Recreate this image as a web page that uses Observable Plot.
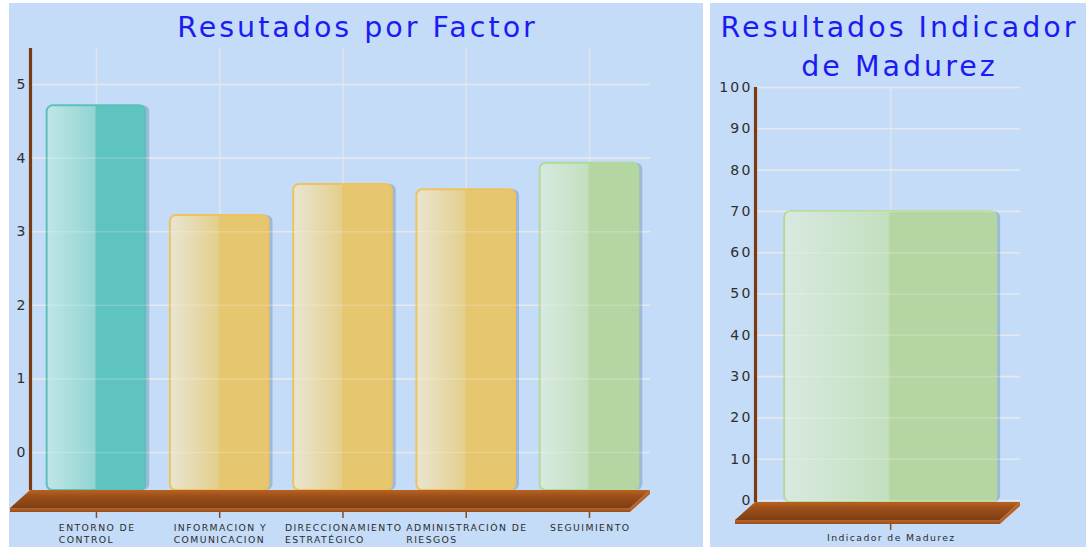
<!DOCTYPE html>
<html>
<head>
<meta charset="utf-8">
<script src="https://cdn.jsdelivr.net/npm/d3@7"></script>
<script src="https://cdn.jsdelivr.net/npm/@observablehq/plot@0.6"></script>
<style>
  html, body { margin: 0; padding: 0; background: #ffffff; width: 1086px; height: 551px; overflow: hidden; }
  .panel { position: absolute; background: #c4dcf7; overflow: hidden; }
  .panel svg { position: absolute; left: 0; top: 0; }
  .title { position: absolute; left: 0; right: 0; top: 5px; text-align: center; color: #1b1bf2;
           font-family: "DejaVu Sans", Verdana, sans-serif; font-size: 28.5px; letter-spacing: 3px;
           padding-left: 3px; line-height: 39px; z-index: 2; }
</style>
</head>
<body>
<div id="left" class="panel" style="left:9px;top:3px;width:694px;height:544px;">
  <div class="title">Resutados por Factor</div>
</div>
<div id="right" class="panel" style="left:710px;top:3px;width:376px;height:544px;">
  <div class="title">Resultados Indicador<br>de Madurez</div>
</div>
<script>
// ---------------- DATA ----------------
const factorNames = [
  "ENTORNO DE\nCONTROL",
  "INFORMACION Y\nCOMUNICACION",
  "DIRECCIONAMIENTO\nESTRATÉGICO",
  "ADMINISTRACIÓN DE\nRIESGOS",
  "SEGUIMIENTO"
];
const factorScores = [4.71, 3.22, 3.64, 3.57, 3.93];
const factorTicks = [0, 1, 2, 3, 4, 5];

const indicatorNames = ["Indicador de Madurez"];
const indicatorScores = [70];
const indicatorTicks = [0, 10, 20, 30, 40, 50, 60, 70, 80, 90, 100];

// ---------------- STYLES ----------------
const factorTones = ["teal", "yellow", "yellow", "yellow", "green"];
const indicatorTones = ["green"];
const tonePalette = {
  teal:   {light: "#bfe6e8", mid: "#92d4d2", solid: "#5fc3bf", stroke: "#5cc1bc"},
  yellow: {light: "#e9e5d0", mid: "#e3cf8d", solid: "#e6c66f", stroke: "#ecc35f"},
  green:  {light: "#d8e9e1", mid: "#c2dfbe", solid: "#b5d6a3", stroke: "#b2d99c"}
};
const FONT = "'DejaVu Sans', Verdana, sans-serif";
const AXIS_LS = 2.2;     // letter spacing of tick values
const LABEL_LS = 1.4;    // letter spacing of category labels
const LABEL_SIZE = 9.3;
const gridColor = "#dfe4ea";

function measure(text, size) {
  const c = measure.c || (measure.c = document.createElement("canvas").getContext("2d"));
  c.font = `${size}px ${FONT}`;
  return c.measureText(text).width + Math.max(0, text.length - 1) * LABEL_LS;
}

function buildChart(cfg) {
  const {names, values, tones, ticks, width, height, mt, mr, mb, ml, xDom, yDom, halfBar, key, labelDy} = cfg;
  const pxX = (xDom[1] - xDom[0]) / (width - ml - mr);
  const pxY = (yDom[1] - yDom[0]) / (height - mt - mb);
  const data = names.map((n, i) => ({i, name: n, value: values[i], tone: tones[i]}));
  const yMin = yDom[0];

  // floor slab (derived from scale geometry)
  const shear = 20 * pxX;
  const fTop = yMin, fMid = yMin - 18 * pxY, fBot = yMin - 22 * pxY;
  const floorTop = [
    {y: fTop, x1: xDom[0], x2: xDom[1]},
    {y: fMid, x1: xDom[0] - shear, x2: xDom[1] - shear}
  ];
  const floorFront = [
    {y: fMid, x1: xDom[0] - shear, x2: xDom[1] - shear},
    {y: fBot, x1: xDom[0] - shear, x2: xDom[1] - shear}
  ];
  const floorSide = [
    {x: xDom[1] - shear, y1: fBot, y2: fMid},
    {x: xDom[1], y1: fTop - 4 * pxY, y2: fTop}
  ];

  const barMarks = Object.keys(tonePalette).map(t =>
    Plot.rectY(data, {
      filter: d => d.tone === t,
      x1: d => d.i - halfBar, x2: d => d.i + halfBar,
      y1: yMin, y2: "value",
      fill: `url(#${key}-${t})`, stroke: tonePalette[t].stroke, strokeWidth: 2,
      rx: 6
    })
  );

  const labelMarks = data.map(d => {
    const lines = d.name.split("\n");
    const w = Math.max(...lines.map(l => measure(l, LABEL_SIZE)));
    return Plot.text([d], {
      x: "i", text: "name", frameAnchor: "bottom", dy: labelDy,
      textAnchor: "start", dx: -w / 2, lineAnchor: "top", lineHeight: 1.3,
      fontSize: LABEL_SIZE, fill: "#2d2d2d"
    });
  });

  const svg = Plot.plot({
    width, height,
    marginTop: mt, marginRight: mr, marginBottom: mb, marginLeft: ml,
    style: {background: "transparent", fontFamily: FONT, fontSize: "14px", color: "#2f2f2f", overflow: "visible"},
    x: {domain: xDom, axis: null},
    y: {domain: yDom, ticks: ticks, tickSize: 0, tickPadding: 3, label: null, tickFormat: d => String(d)},
    marks: [
      Plot.ruleY(ticks, {stroke: gridColor, strokeWidth: 1.6}),
      Plot.ruleX(data, {x: "i", stroke: gridColor, strokeWidth: 1.6}),
      Plot.rectY(data, {
        x1: d => d.i - halfBar, x2: d => d.i + halfBar, y1: yMin, y2: "value",
        dx: 4, fill: "#6f8db5", fillOpacity: 0.45, rx: 6, ariaLabel: "bar-shadow"
      }),
      ...barMarks,
      Plot.ruleY(ticks, {stroke: "#ffffff", strokeOpacity: 0.18, strokeWidth: 1.6}),
      Plot.areaX(floorTop, {y: "y", x1: "x1", x2: "x2", fill: `url(#${key}-floor)`}),
      Plot.areaX(floorFront, {y: "y", x1: "x1", x2: "x2", fill: `url(#${key}-front)`}),
      Plot.areaY(floorSide, {x: "x", y1: "y1", y2: "y2", fill: "#b8622a"}),
      Plot.ruleX([xDom[0]], {y1: yMin, y2: yDom[1], stroke: "#7b3a12", strokeWidth: 3.2}),
      Plot.ruleX(data, {x: "i", y1: fBot, y2: fBot - 6 * pxY, stroke: "#8a4a22", strokeWidth: 1.5}),
      ...labelMarks
    ]
  });

  // gradients and blur filter
  const ns = "http://www.w3.org/2000/svg";
  const defs = document.createElementNS(ns, "defs");
  let html = "";
  for (const [t, p] of Object.entries(tonePalette)) {
    html += `<linearGradient id="${key}-${t}" x1="0" x2="1" y1="0" y2="0">
      <stop offset="0" stop-color="${p.light}"/><stop offset="0.49" stop-color="${p.mid}"/>
      <stop offset="0.5" stop-color="${p.solid}"/><stop offset="1" stop-color="${p.solid}"/></linearGradient>`;
  }
  html += `<linearGradient id="${key}-floor" x1="0" x2="0" y1="0" y2="1">
      <stop offset="0" stop-color="#b8621f"/><stop offset="0.35" stop-color="#9b4f1b"/>
      <stop offset="1" stop-color="#7f3f12"/></linearGradient>
    <linearGradient id="${key}-front" x1="0" x2="0" y1="0" y2="1">
      <stop offset="0" stop-color="#b9652c"/><stop offset="1" stop-color="#94501f"/></linearGradient>
    <filter id="${key}-blur" x="-20%" y="-10%" width="140%" height="120%"><feGaussianBlur stdDeviation="2.5"/></filter>`;
  defs.innerHTML = html;
  svg.insertBefore(defs, svg.firstChild);
  const sh = svg.querySelector('[aria-label="bar-shadow"]');
  if (sh) sh.setAttribute("filter", `url(#${key}-blur)`);
  svg.querySelectorAll("text").forEach(t => {
    t.setAttribute("letter-spacing", /^\d+$/.test(t.textContent.trim()) ? AXIS_LS : LABEL_LS);
  });
  return svg;
}

document.getElementById("left").appendChild(buildChart({
  key: "L", names: factorNames, values: factorScores, tones: factorTones, ticks: factorTicks,
  width: 694, height: 544, mt: 45, mr: 53, mb: 57, ml: 21,
  xDom: [-0.535, 4.495], yDom: [-0.516, 5.489], halfBar: 0.4, labelDy: 32
}));

document.getElementById("right").appendChild(buildChart({
  key: "R", names: indicatorNames, values: indicatorScores, tones: indicatorTones, ticks: indicatorTicks,
  width: 376, height: 544, mt: 84, mr: 66, mb: 45, ml: 45,
  xDom: [-0.51, 0.49], yDom: [-0.484, 100], halfBar: 0.4, labelDy: 30
}));
</script>
</body>
</html>
